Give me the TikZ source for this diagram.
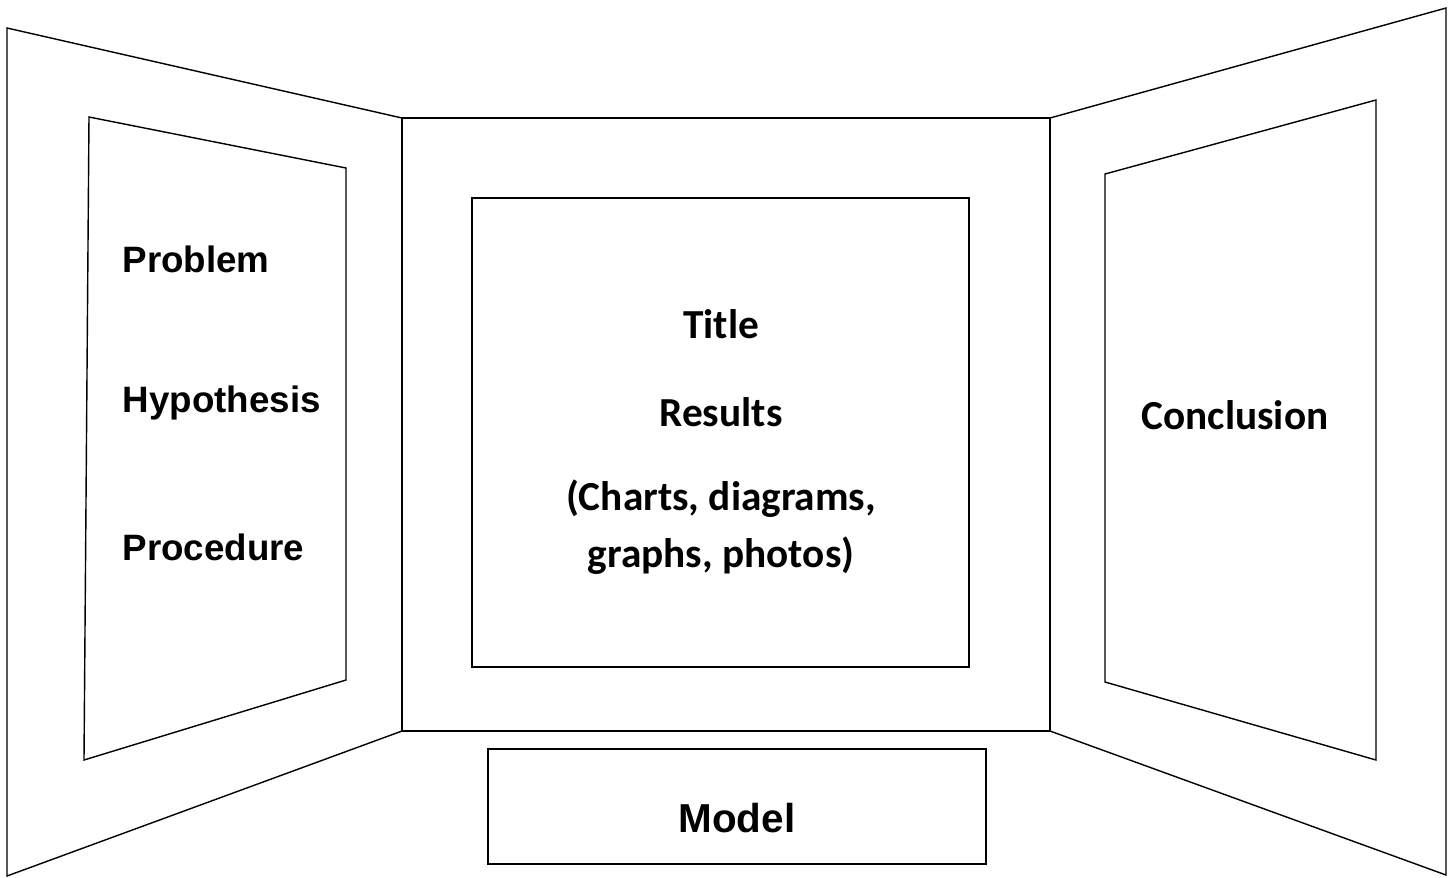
\documentclass[tikz,border=0pt]{standalone}
\usepackage{fontspec}
\usepackage{tikz}
\newfontfamily\arialfont{Liberation Sans}
\newfontfamily\califont{Carlito}
\usetikzlibrary{calc,
	positioning}

\begin{document}
\begin{tikzpicture}[x=0.02cm, y=-0.02cm, line width=0.8pt]
	\useasboundingbox (0, 0) rectangle (1453, 877);
	% left wing
	\draw (7, 28) -- (402, 118) -- (402, 731) -- (7, 876) -- cycle;
	\draw (89, 117) -- (346, 168) -- (346, 680) -- (84, 760) -- cycle;
	% middle board
	\draw (402, 118) rectangle (1050, 731);
	\draw (472, 198) rectangle (969, 667);
	% right wing
	\draw (1050, 118) -- (1446, 8) -- (1446, 875) -- (1050, 731) -- cycle;
	\draw (1105, 174) -- (1376, 100) -- (1376, 760) -- (1105, 682) -- cycle;
	% model
	\draw (488, 749) rectangle (986, 864);
	\draw (122, 259) node (problem) [anchor=west, inner sep=0pt] {\arialfont\fontsize{20.9}{24}\selectfont\bfseries Problem};
	\draw (122, 403) node (hypothesis) [anchor=west, inner sep=0pt] {\arialfont\fontsize{20.9}{24}\selectfont\bfseries Hypothesis};
	\draw (122, 547) node (procedure) [anchor=west, inner sep=0pt] {\arialfont\fontsize{20.9}{24}\selectfont\bfseries Procedure};
	\draw (721, 324) node (title) {\califont\fontsize{23.5}{28}\selectfont\bfseries Title};
	\draw (721, 412) node (results) {\califont\fontsize{23.5}{28}\selectfont\bfseries Results};
	\draw (721, 499) node (charts) {\califont\fontsize{23.5}{28}\selectfont\bfseries (Charts, diagrams,};
	\draw (721, 556) node (graphs) {\califont\fontsize{23.5}{28}\selectfont\bfseries graphs, photos)};
	\draw (1235, 415) node (conclusion) {\califont\fontsize{23.5}{28}\selectfont\bfseries Conclusion};
	\draw (737, 818) node (model) {\arialfont\fontsize{23}{28}\selectfont\bfseries Model};
\end{tikzpicture}
\end{document}
